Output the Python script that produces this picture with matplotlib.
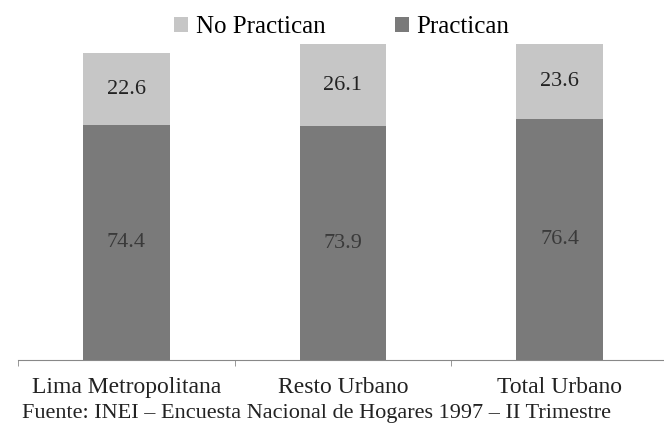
import matplotlib.pyplot as plt

# Datos: población urbana que practica deporte (%)
categorias = ["Lima Metropolitana", "Resto Urbano", "Total Urbano"]
practican = [74.4, 73.9, 76.4]
no_practican = [22.6, 26.1, 23.6]

plt.rcParams['font.family'] = ['Liberation Serif', 'DejaVu Serif']

fig = plt.figure(figsize=(6.64, 4.28), dpi=100)
ax = fig.add_axes([18 / 664, 68 / 428, 650 / 664, 316 / 428])

x = range(len(categorias))
b1 = ax.bar(x, practican, width=0.40, color='#7a7a7a', label='Practican')
b2 = ax.bar(x, no_practican, width=0.40, bottom=practican, color='#c6c6c6',
            label='No Practican')

ax.bar_label(b1, labels=[f"{v:.1f}" for v in practican], label_type='center',
             fontsize=16, color='#3a3a3a')
ax.bar_label(b2, labels=[f"{v:.1f}" for v in no_practican], label_type='center',
             fontsize=16, color='#222222')

ax.set_xlim(-0.5, 2.5)
ax.set_ylim(0, 100)

for s in ['top', 'right', 'left']:
    ax.spines[s].set_visible(False)
ax.spines['bottom'].set_color('#888888')
ax.spines['bottom'].set_linestyle((0, (2, 1)))
ax.set_yticks([])

ax.set_xticks(list(x))
ax.set_xticklabels(categorias, fontsize=17, color='#222222')
ax.tick_params(axis='x', length=0, pad=12)
ax.set_xticks([-0.5, 0.5, 1.5], minor=True)
ax.tick_params(axis='x', which='minor', length=4, color='#888888')

fig.legend(handles=[b2, b1], labels=['No Practican', 'Practican'], ncol=2,
           loc='center', bbox_to_anchor=(0.515, 0.937), frameon=False,
           fontsize=18, handlelength=0.55, handleheight=0.55, handletextpad=0.3,
           columnspacing=2.8)

fig.text(0.477, 0.035, "Fuente: INEI – Encuesta Nacional de Hogares 1997 – II Trimestre",
         ha='center', va='center', fontsize=16, color='#222222')

fig.savefig('out.png', dpi=100)
